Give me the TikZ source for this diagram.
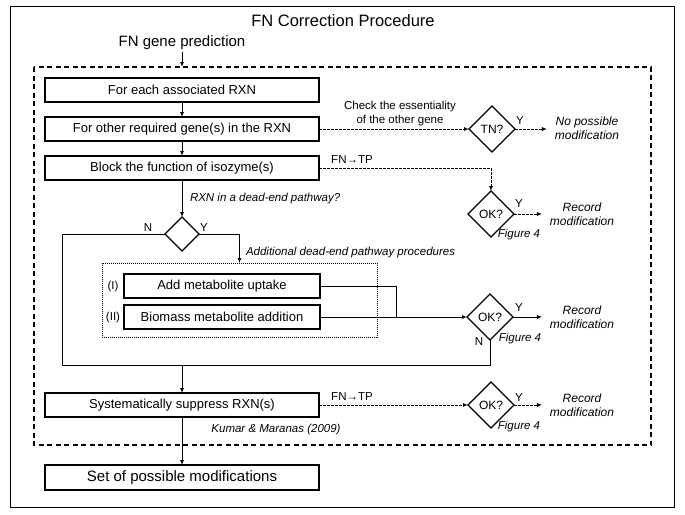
\documentclass[tikz,border=0pt]{standalone}
\usepackage{fontspec}
\setmainfont{Liberation Sans}
\usetikzlibrary{shapes.geometric,arrows.meta,calc}
\begin{document}
\begin{tikzpicture}[x=1pt,y=-1pt,
  every node/.style={inner sep=0pt, outer sep=0pt},
  proc/.style={draw, line width=1.1pt, minimum width=274pt, minimum height=24pt, font=\fontsize{13}{15}\selectfont},
  dec/.style={draw, diamond, line width=1.1pt, minimum width=46pt, minimum height=46pt, inner sep=0pt, font=\fontsize{12}{14}\selectfont},
  lbl/.style={font=\fontsize{11.5}{14}\selectfont, align=center},
  ilbl/.style={font=\itshape\fontsize{11.5}{14}\selectfont, align=center},
  res/.style={font=\itshape\fontsize{12}{14.5}\selectfont, align=center, inner xsep=8pt},
  arr/.style={-{Latex[length=5pt,width=4pt]}, line width=1pt},
  darr/.style={arr, dash pattern=on 2.5pt off 1.5pt},
  ln/.style={line width=1pt},
]
\useasboundingbox (0,0) rectangle (685,514);
\draw[line width=1pt] (10.5,6) rectangle (674.5,507);
\draw[line width=1.1pt, dash pattern=on 5pt off 3.5pt] (34,67) rectangle (651,445);

\coordinate (dtop) at (183,67);
\coordinate (loopL) at (62,365);
\coordinate (join) at (396,317);

\node[font=\fontsize{16.5}{18}\selectfont] (title) at (343,21) {FN Correction Procedure};
\node[font=\fontsize{15}{17}\selectfont] (fn) at (182,43) {FN gene prediction};
\node[proc] (b1) at (182,90) {For each associated RXN};
\node[proc] (b2) at (182,129) {For other required gene(s) in the RXN};
\node[proc] (b3) at (182,168) {Block the function of isozyme(s)};
\node[dec] (tn) at (492,129) {TN?};
\node[dec] (ok1) at (491,214) {OK?};
\node[dec, minimum width=34pt, minimum height=34pt] (de) at (182,234) {};
\node[draw, line width=0.8pt, dash pattern=on 1pt off 1pt, minimum width=275pt, minimum height=74pt] (dot) at (239.5,300) {};
\node[proc, minimum width=196pt] (add) at (222,286) {Add metabolite uptake};
\node[proc, minimum width=196pt] (bio) at (222,317) {Biomass metabolite addition};
\node[dec] (ok2) at (490,317) {OK?};
\node[proc] (sys) at (182,405) {Systematically suppress RXN(s)};
\node[dec] (ok3) at (491,405) {OK?};
\node[proc, minimum height=25pt, font=\fontsize{15}{17}\selectfont] (fin) at (182,477.5) {Set of possible modifications};

\node[res] (np) at (587,128) {No possible\\modification};
\node[res] (r1) at (582,214) {Record\\modification};
\node[res] (r2) at (582,317) {Record\\modification};
\node[res] (r3) at (582,405) {Record\\modification};

\node[lbl] (chk) at (400,114) {Check the essentiality\\of the other gene};
\node[lbl] (ftp1) at (352,160) {FN→TP};
\node[lbl] (ftp2) at (352,397) {FN→TP};
\node[ilbl, anchor=west] (q) at (190,199) {RXN in a dead-end pathway?};
\node[lbl] (nN) at (148,228) {N};
\node[lbl] (nY) at (204,228) {Y};
\node[ilbl, anchor=west] (adl) at (246,253) {Additional dead-end pathway procedures};
\node[lbl] (i1) at (113,287) {(I)};
\node[lbl] (i2) at (113,318) {(II)};
\node[lbl] (y1) at (520,121) {Y};
\node[lbl] (y2) at (519,204) {Y};
\node[lbl] (y3) at (519,308) {Y};
\node[lbl] (y4) at (519,398) {Y};
\node[lbl] (n2) at (479,342) {N};
\node[ilbl] (f1) at (519,235) {Figure 4};
\node[ilbl] (f2) at (520,339) {Figure 4};
\node[ilbl] (f3) at (519,427) {Figure 4};
\node[ilbl] (km) at (276,430) {Kumar \& Maranas (2009)};

\draw[arr, shorten <=2pt] (fn.south) -- (fn.south |- dtop);
\draw[arr] (b1) -- (b2);
\draw[arr] (b2) -- (b3);
\draw[darr] (b2.east) -- (tn.west);
\draw[darr] (tn.east) -- (tn.east -| np.west);
\draw[darr] (b3.east) -| (ok1.north);
\draw[darr] (ok1.east) -- (ok1.east -| r1.west);
\draw[arr] (b3) -- (de);
\draw[ln] (de.west) -| (loopL) -| (ok2.south);
\draw[arr] (de.east) -| (dot.north);
\draw[ln] (add.east) -| (join);
\draw[arr] (bio.east) -- (ok2.west);
\draw[arr] (ok2.east) -- (ok2.east -| r2.west);
\draw[arr] (sys.north |- loopL) -- (sys.north);
\draw[darr] (sys.east) -- (ok3.west);
\draw[darr] (ok3.east) -- (ok3.east -| r3.west);
\draw[arr] (sys.south) -- (fin.north);
\end{tikzpicture}
\end{document}
